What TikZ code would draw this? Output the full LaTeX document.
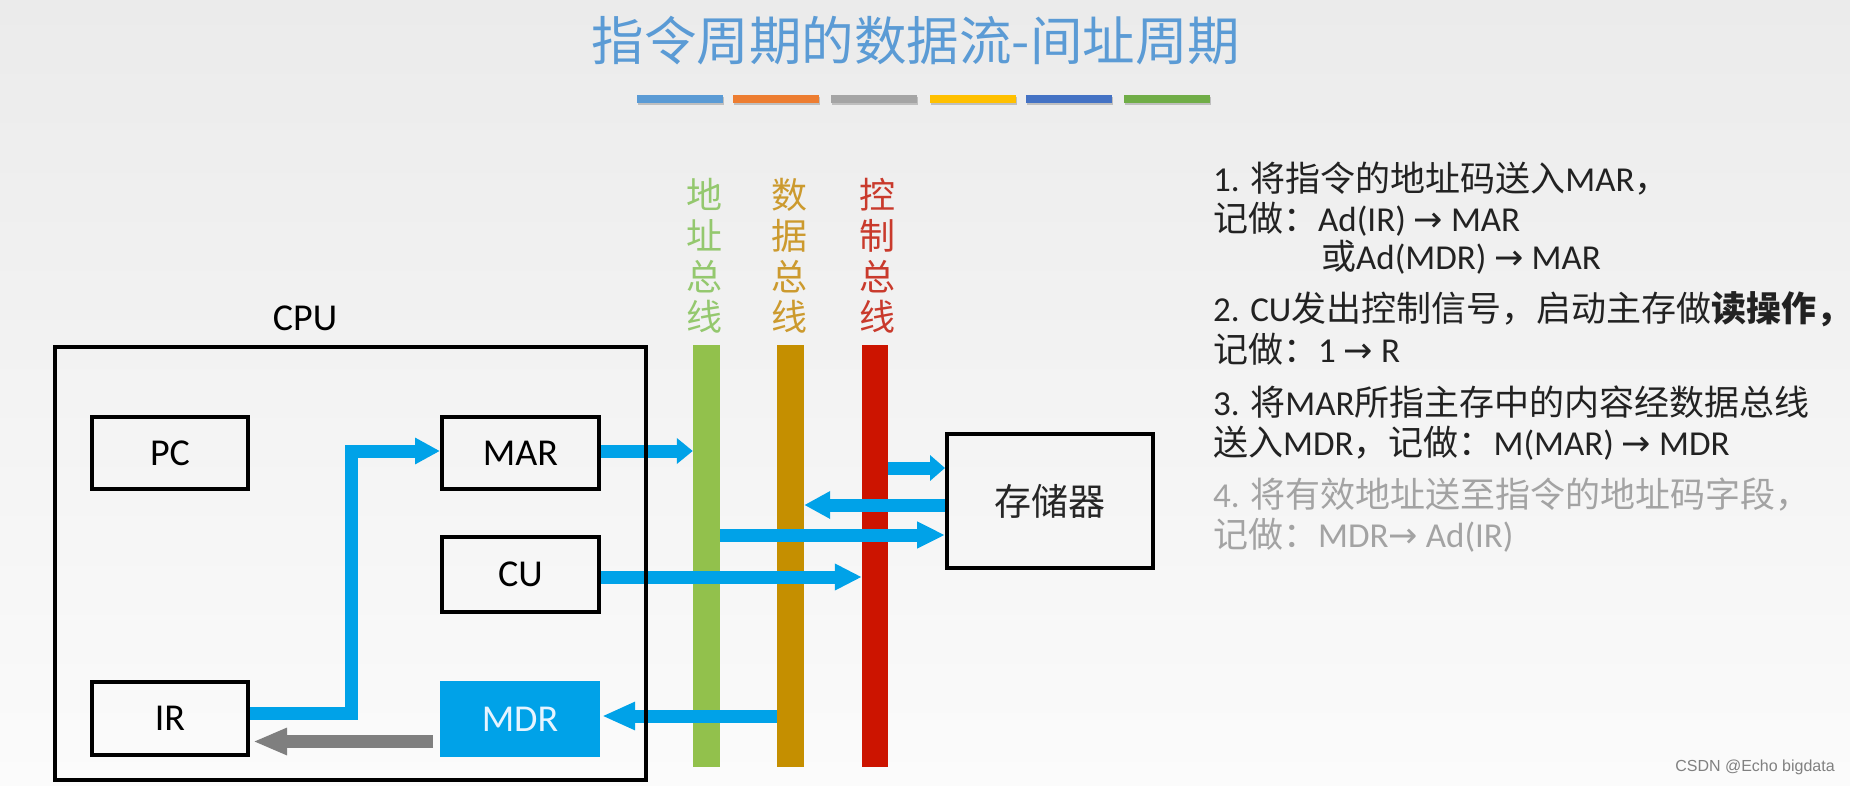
\documentclass[tikz,border=0pt]{standalone}
\usepackage{fontspec}
\setmainfont{Carlito}
\newfontfamily\cjk{Noto Sans CJK SC}
\newfontfamily\arrfont{DejaVu Sans}
\newfontfamily\wmfont{Liberation Sans}
\usetikzlibrary{arrows.meta}
\definecolor{bgtop}{HTML}{EBEBEB}
\definecolor{bgbot}{HTML}{FBFBFB}
\definecolor{titleblue}{HTML}{5B9BD5}
\definecolor{barA}{HTML}{5B9BD5}
\definecolor{barB}{HTML}{ED7D31}
\definecolor{barC}{HTML}{A5A5A5}
\definecolor{barD}{HTML}{FFC000}
\definecolor{barE}{HTML}{4472C4}
\definecolor{barF}{HTML}{70AD47}
\definecolor{addrgreen}{HTML}{92C14C}
\definecolor{datagold}{HTML}{C58F00}
\definecolor{ctrlred}{HTML}{CC1400}
\definecolor{addrtext}{HTML}{94C86E}
\definecolor{datatext}{HTML}{CC9A2E}
\definecolor{ctrltext}{HTML}{C93A2C}
\definecolor{arrblue}{HTML}{00A2E8}
\definecolor{arrgray}{HTML}{7F7F7F}
\definecolor{mdrtext}{HTML}{E6F4FF}
\definecolor{txtdark}{HTML}{222222}
\definecolor{txtgray}{HTML}{A3A3A3}
\newcommand{\zh}[1]{{\cjk #1}}
\newcommand{\rarr}{{\arrfont →}}
\tikzset{
  reg/.style={draw=black, line width=4pt, minimum width=156pt, minimum height=73pt, inner sep=0pt, font=\fontsize{38}{44}\selectfont},
  bus/.style={inner sep=0pt, minimum width=27pt, minimum height=422pt},
  buslabel/.style={align=center, inner sep=0pt, font=\cjk\fontsize{36}{40.7}\selectfont},
  rtext/.style={anchor=base west, inner sep=0pt, font=\fontsize{35}{40}\selectfont, text=txtdark},
  barrow/.style={draw=arrblue, line width=13pt},
}
\begin{document}
\begin{tikzpicture}[x=1pt, y=-1pt]
\useasboundingbox (0,0) rectangle (1850,786);
\shade[top color=bgtop, bottom color=bgbot] (0,0) rectangle (1850,786);

% title
\node[inner sep=0pt, text=titleblue, font=\cjk\fontsize{52.5}{60}\selectfont] (title) at (916,41) {指令周期的数据流-间址周期};

% colour bars
\foreach \x/\c in {637/barA, 733/barB, 831/barC, 930/barD, 1026/barE, 1124/barF}{
  \fill[black!25] (\x+1,97) rectangle (\x+87,105);
  \fill[\c] (\x,95) rectangle (\x+86,103);
}

% buses
\node[bus, fill=addrgreen] (abus) at (706.5,556) {};
\node[bus, fill=datagold] (dbus) at (790.5,556) {};
\node[bus, fill=ctrlred, minimum width=26pt] (cbus) at (875,556) {};
\node[buslabel, text=addrtext] (alab) at (704,256) {地\\址\\总\\线};
\node[buslabel, text=datatext] (dlab) at (789,256) {数\\据\\总\\线};
\node[buslabel, text=ctrltext] (clab) at (877,256) {控\\制\\总\\线};

% registers
\node[reg, minimum height=72pt] (PC) at (170,453) {PC};
\node[reg, minimum width=157pt, minimum height=72pt] (MAR) at (520.5,453) {MAR};
\node[reg, minimum width=157pt, minimum height=75pt] (CU) at (520.5,574.5) {CU};
\node[reg] (IR) at (170,718.5) {IR};
\node[reg, draw=none, fill=arrblue, text=mdrtext, minimum width=160pt, minimum height=76pt] (MDR) at (520,719) {MDR};
\node[reg, minimum width=206pt, minimum height=134pt, font=\cjk\fontsize{37}{44}\selectfont, text=black!85] (mem) at (1050,501) {存储器};

% connectors
\coordinate (bend) at (351,451);
\draw[barrow, line join=miter, -{Triangle[length=25pt,width=25pt]}] ([yshift=5.5pt]IR.east) -| (bend) -- ([yshift=2pt]MAR.west);
\draw[barrow, -{Triangle[length=16pt,width=25pt]}] ([yshift=2pt]MAR.east) -- ([yshift=2pt]MAR.east -| abus.west);
\draw[barrow, -{Triangle[length=15pt,width=25pt]}] ([yshift=33pt]mem.west -| cbus.east) -- ([yshift=33pt]mem.west);
\draw[barrow, -{Triangle[length=26pt,width=26pt]}] ([yshift=-4pt]mem.west) -- ([yshift=-4pt]mem.west -| dbus.east);
\draw[barrow, -{Triangle[length=28pt,width=25pt]}] ([yshift=-34pt]mem.west -| abus.east) -- ([yshift=-34pt]mem.west);
\draw[barrow, -{Triangle[length=27pt,width=25pt]}] ([yshift=-2.5pt]CU.east) -- ([yshift=-2.5pt]CU.east -| cbus.west);
\draw[barrow, -{Triangle[length=33pt,width=26pt]}] ([yshift=3pt]MDR.east -| dbus.west) -- ([yshift=3pt]MDR.east);
\draw[draw=arrgray, line width=13pt, shorten >=3pt, -{Triangle[length=34pt,width=25pt]}] ([yshift=-22.5pt,xshift=-5pt]MDR.west) -- ([yshift=-22.5pt]MDR.west -| IR.east);

% CPU box
\node[draw=black, line width=4pt, minimum width=591pt, minimum height=433pt, inner sep=0pt] (cpu) at (350.5,563.5) {};
\node[inner sep=0pt, font=\fontsize{38}{44}\selectfont] (cpulab) at (305,318) {CPU};

% right text
\node[rtext] (t1) at (1213,192) {1. \zh{将指令的地址码送入}MAR\zh{，}};
\node[rtext] (t2) at (1213,232) {\zh{记做：}Ad(IR) \rarr{} MAR};
\node[rtext] (t3) at (1321,270) {\zh{或}Ad(MDR) \rarr{} MAR};
\node[rtext] (t4) at (1213,322) {2. CU\zh{发出控制信号，启动主存做}{\cjk\bfseries 读操作，}};
\node[rtext] (t5) at (1213,362) {\zh{记做：}1 \rarr{} R};
\node[rtext] (t6) at (1213,415) {3. \zh{将}MAR\zh{所指主存中的内容经数据总线}};
\node[rtext] (t7) at (1213,455) {\zh{送入}MDR\zh{，记做：}M(MAR) \rarr{} MDR};
\node[rtext, text=txtgray] (t8) at (1213,507) {4. \zh{将有效地址送至指令的地址码字段，}};
\node[rtext, text=txtgray] (t9) at (1213,547) {\zh{记做：}MDR\rarr{} Ad(IR)};

% watermark
\node[inner sep=0pt, text=black!50, font=\wmfont\fontsize{16}{20}\selectfont] (wm) at (1755,767) {CSDN @Echo bigdata};
\end{tikzpicture}
\end{document}
